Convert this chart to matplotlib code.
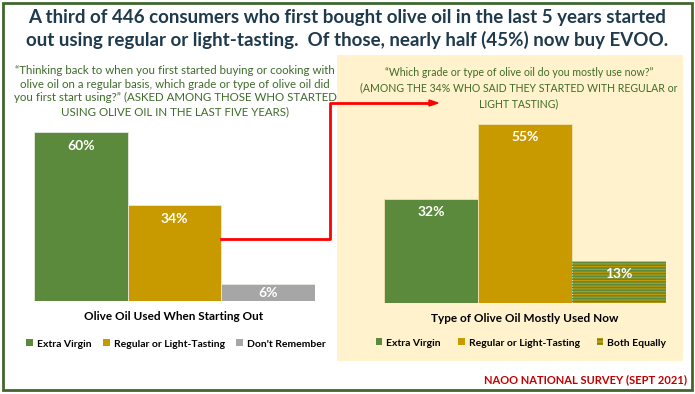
import matplotlib.pyplot as plt
from matplotlib.patches import Rectangle, Patch
from matplotlib.lines import Line2D

plt.rcParams['font.family'] = ['Lato', 'DejaVu Sans']
plt.rcParams['hatch.linewidth'] = 1.2

# data
start_cats = ["Extra Virgin", "Regular or Light-Tasting", "Don't Remember"]
start_vals = [60, 34, 6]
now_cats = ["Extra Virgin", "Regular or Light-Tasting", "Both Equally"]
now_vals = [32, 55, 13]

GREEN = '#5b8a3c'
GOLD = '#c99a00'
GRAY = '#a6a6a6'
TXT_GREEN = '#3f6b2a'

W, H = 695, 394
fig = plt.figure(figsize=(W / 100, H / 100), dpi=100)


def fx(x):
    return x / W


def fy(y):
    return 1 - y / H


# outer frame and the yellow panel
fig.patches.append(Rectangle((fx(3), fy(390)), fx(689), 387 / H, transform=fig.transFigure,
                             fill=False, edgecolor='#41672f', linewidth=2, zorder=-2))
fig.patches.append(Rectangle((fx(337), fy(361)), fx(346), 306 / H, transform=fig.transFigure,
                             facecolor='#fff2cc', edgecolor='none', zorder=-2))

# title
fig.text(0.5, fy(17), "A third of 446 consumers who first bought olive oil in the last 5 years started",
         ha='center', va='center', fontsize=13.5, fontweight='bold', color='#1f3a4d')
fig.text(0.5, fy(40), "out using regular or light-tasting.  Of those, nearly half (45%) now buy EVOO.",
         ha='center', va='center', fontsize=13.5, fontweight='bold', color='#1f3a4d')

# question texts
fig.text(fx(175), fy(91), "\u201cThinking back to when you first started buying or cooking with\n"
         "olive oil on a regular basis, which grade or type of olive oil did\n"
         "you first start using?\u201d (ASKED AMONG THOSE WHO STARTED\n"
         "USING OLIVE OIL IN THE LAST FIVE YEARS)",
         ha='center', va='center', fontsize=8.3, color=TXT_GREEN, linespacing=1.3)
fig.text(fx(519), fy(88), "\u201cWhich grade or type of olive oil do you mostly use now?\u201d\n"
         "(AMONG THE 34% WHO SAID THEY STARTED WITH REGULAR or\n"
         "LIGHT TASTING)",
         ha='center', va='center', fontsize=7.6, color=TXT_GREEN, linespacing=1.5)


def label_bars(ax, vals, px_per):
    for i, v in enumerate(vals):
        off = min(9.5, v * px_per * 0.72 / 2)
        ax.annotate(f"{v}%", (i, v), xytext=(0, -off), textcoords='offset points',
                    ha='center', va='center', color='white', fontsize=10,
                    fontweight='bold', annotation_clip=False, clip_on=False)


# left chart: baseline y=301, 2.81 px per percent
axL = fig.add_axes([fx(34), fy(301), fx(281), 200 / H])
axL.set_xlim(-0.5, 2.5)
axL.set_ylim(0, 200 / 2.81)
axL.bar(range(3), start_vals, width=1, color=[GREEN, GOLD, GRAY],
        edgecolor='#e8e8e0', linewidth=0.6)
label_bars(axL, start_vals, 2.81)
axL.axis('off')

# right chart: baseline y=303, 3.25 px per percent
axR = fig.add_axes([fx(384), fy(303), fx(282), 200 / H])
axR.set_xlim(-0.5, 2.5)
axR.set_ylim(0, 200 / 3.25)
axR.bar(range(3), now_vals, width=1, color=[GREEN, GOLD, GOLD],
        edgecolor='#f3e3b0', linewidth=0.6)
axR.bar([2], [now_vals[2]], width=1, fill=False, hatch='------',
        edgecolor=GREEN, linewidth=0)
label_bars(axR, now_vals, 3.25)
axR.axis('off')

# axis titles
fig.text(fx(174), fy(316), "Olive Oil Used When Starting Out", ha='center', va='center',
         fontsize=8.5, fontweight='bold', color='black')
fig.text(fx(525), fy(318), "Type of Olive Oil Mostly Used Now", ha='center', va='center',
         fontsize=8.5, fontweight='bold', color='black')

# legends
hL = [Patch(facecolor=c, edgecolor='none') for c in [GREEN, GOLD, GRAY]]
fig.legend(hL, start_cats, loc='center', bbox_to_anchor=(fx(176), fy(344)), ncol=3,
           frameon=False, handlelength=0.65, handleheight=0.65, handletextpad=0.4,
           columnspacing=1.1, prop={'size': 7.5, 'weight': 'bold'})
hR = [Patch(facecolor=GREEN, edgecolor='none'), Patch(facecolor=GOLD, edgecolor='none'),
      Patch(facecolor=GOLD, edgecolor=GREEN, hatch='----', linewidth=0)]
fig.legend(hR, now_cats, loc='center', bbox_to_anchor=(fx(521), fy(343)), ncol=3,
           frameon=False, handlelength=0.65, handleheight=0.65, handletextpad=0.4,
           columnspacing=1.6, prop={'size': 7.5, 'weight': 'bold'})

# red connector arrow
fig.lines.append(Line2D([fx(221), fx(330), fx(330), fx(430)], [fy(239), fy(239), fy(103), fy(103)],
                        transform=fig.transFigure, color='red', linewidth=2))
fig.patches.append(plt.Polygon([[fx(429), fy(100)], [fx(438), fy(103)], [fx(429), fy(106)]],
                               closed=True, transform=fig.transFigure, color='red'))

# footer
fig.text(fx(687), fy(380), "NAOO NATIONAL SURVEY (SEPT 2021)", ha='right', va='center',
         fontsize=8.0, fontweight='bold', color='#c00000')

fig.savefig('out.png', dpi=100)
